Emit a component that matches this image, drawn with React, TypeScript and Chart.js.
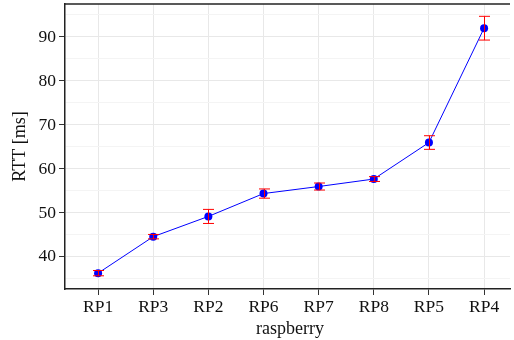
import React, { useEffect, useRef } from "react";
import { Chart, registerables } from "chart.js";

Chart.register(...registerables);

// Round-trip time per Raspberry Pi node, sorted by mean
const categories = ["RP1", "RP3", "RP2", "RP6", "RP7", "RP8", "RP5", "RP4"];
const rttMean = [36.3, 44.6, 49.2, 54.4, 56.0, 57.7, 66.0, 92.0];
const rttError = [0.6, 0.5, 1.6, 1.05, 0.8, 0.55, 1.55, 2.7];
const yTicks = [35, 40, 45, 50, 55, 60, 65, 70, 75, 80, 85, 90, 95];
const xTitle = "raspberry";
const yTitle = "RTT [ms]";

const FONT = "'Liberation Serif', 'Times New Roman', serif";

const frameErrorBarsTitles = {
  id: "frameErrorBarsTitles",
  afterDatasetsDraw(chart: any) {
    const { ctx, chartArea, scales } = chart;
    const xs = scales.x;
    const ys = scales.y;
    ctx.save();
    ctx.strokeStyle = "#ff0000";
    ctx.lineWidth = 1;
    const cap = 5.5;
    rttMean.forEach((m, i) => {
      const x = Math.round(xs.getPixelForValue(i)) + 0.5;
      const yTop = ys.getPixelForValue(m + rttError[i]);
      const yBot = ys.getPixelForValue(m - rttError[i]);
      ctx.beginPath();
      ctx.moveTo(x, yTop);
      ctx.lineTo(x, yBot);
      ctx.moveTo(x - cap, yTop);
      ctx.lineTo(x + cap, yTop);
      ctx.moveTo(x - cap, yBot);
      ctx.lineTo(x + cap, yBot);
      ctx.stroke();
    });
    // top frame line
    ctx.strokeStyle = "#222";
    ctx.lineWidth = 1.5;
    ctx.beginPath();
    ctx.moveTo(chartArea.left, chartArea.top);
    ctx.lineTo(chartArea.right, chartArea.top);
    ctx.stroke();
    ctx.restore();
  },
  afterDraw(chart: any) {
    const { ctx, chartArea } = chart;
    ctx.save();
    ctx.fillStyle = "#111";
    ctx.textAlign = "center";
    ctx.textBaseline = "alphabetic";
    ctx.font = `18px ${FONT}`;
    // x axis title
    ctx.fillText(xTitle, (chartArea.left + chartArea.right) / 2 + 2.5, 334);
    // y axis title, rotated
    ctx.translate(25, (chartArea.top + chartArea.bottom) / 2);
    ctx.rotate(-Math.PI / 2);
    ctx.fillText(yTitle, 0, 0);
    ctx.restore();
  },
};

export default function App() {
  const canvasRef = useRef<HTMLCanvasElement | null>(null);

  useEffect(() => {
    document.body.style.margin = "0";
    const canvas = canvasRef.current;
    if (!canvas) return;
    const chart = new Chart(canvas, {
      type: "line",
      data: {
        datasets: [
          {
            data: rttMean.map((v, i) => ({ x: i, y: v })),
            borderColor: "#0000ff",
            borderWidth: 1,
            backgroundColor: "#0000ff",
            pointBackgroundColor: "#0000ff",
            pointBorderColor: "#0000ff",
            pointRadius: 4,
            pointBorderWidth: 0,
            tension: 0,
          },
        ],
      },
      options: {
        responsive: false,
        animation: false,
        devicePixelRatio: 1,
        layout: { padding: { top: 4, right: 0, left: 0, bottom: 0 } },
        plugins: {
          legend: { display: false },
          tooltip: { enabled: false },
        },
        scales: {
          x: {
            type: "linear",
            min: -0.6,
            max: 7.47,
            afterBuildTicks: (scale: any) => {
              scale.ticks = categories.map((_, i) => ({ value: i }));
            },
            afterFit: (scale: any) => {
              scale.height = 51;
              scale.paddingLeft = 0;
              scale.paddingRight = 0;
            },
            ticks: {
              autoSkip: false,
              maxRotation: 0,
              padding: 2,
              color: "#111",
              font: { family: FONT, size: 17.5 },
              callback: (v: any) => categories[Math.round(Number(v))] ?? "",
            },
            grid: {
              color: "#e8e8e8",
              lineWidth: 1,
              tickLength: 6,
              tickColor: "#333",
            },
            border: { display: true, color: "#222", width: 1.5 },
          },
          y: {
            type: "linear",
            min: 32.7,
            max: 97.5,
            afterBuildTicks: (scale: any) => {
              scale.ticks = yTicks.map((v) => ({ value: v }));
            },
            afterFit: (scale: any) => {
              scale.width = 65;
              scale.paddingTop = 0;
              scale.paddingBottom = 0;
            },
            ticks: {
              autoSkip: false,
              padding: 3,
              color: "#111",
              font: { family: FONT, size: 17.5 },
              callback: (v: any) => (Number(v) % 10 === 0 ? String(v) : ""),
            },
            grid: {
              color: (c: any) =>
                c.tick && c.tick.value % 10 === 0 ? "#e8e8e8" : "#f4f4f4",
              lineWidth: 1,
              tickLength: 6,
              tickColor: (c: any) =>
                c.tick && c.tick.value % 10 === 0 ? "#333" : "rgba(0,0,0,0)",
            },
            border: { display: true, color: "#222", width: 1.5 },
          },
        },
      },
      plugins: [frameErrorBarsTitles],
    });
    return () => chart.destroy();
  }, []);

  return (
    <div style={{ width: 514, height: 340 }}>
      <canvas ref={canvasRef} width={514} height={340} />
    </div>
  );
}
